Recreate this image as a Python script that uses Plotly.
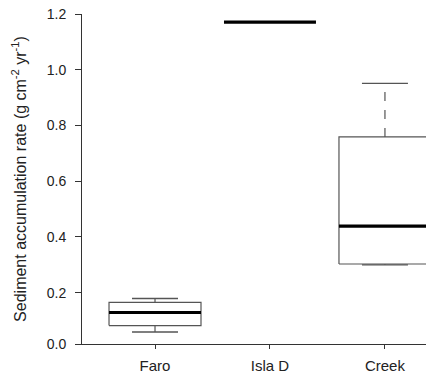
import plotly.graph_objects as go

categories = ["Faro", "Isla D", "Creek"]
q1 = [0.082, None, 0.303]
median = [0.129, 1.171, 0.439]
q3 = [0.165, None, 0.759]
whisker_low = [0.059, None, 0.300]
whisker_high = [0.179, None, 0.951]
whisker_dash = ["solid", None, "dash"]

y_tickvals = [0.016, 0.2, 0.4, 0.6, 0.8, 1.0, 1.2]
y_ticktext = ["0.0", "0.2", "0.4", "0.6", "0.8", "1.0", "1.2"]

BOX_HW = 0.4
CAP_HW = 0.2
GREY = "#555555"

fig = go.Figure()
for i, cat in enumerate(categories):
    if q1[i] is not None:
        # box outline
        fig.add_trace(go.Scatter(
            x=[i - BOX_HW, i + BOX_HW, i + BOX_HW, i - BOX_HW, i - BOX_HW],
            y=[q1[i], q1[i], q3[i], q3[i], q1[i]],
            mode="lines", line=dict(color=GREY, width=1.2), hoverinfo="skip"))
        # whiskers
        fig.add_trace(go.Scatter(
            x=[i, i], y=[q3[i], whisker_high[i]], mode="lines",
            line=dict(color=GREY, width=1.2, dash=whisker_dash[i]), hoverinfo="skip"))
        fig.add_trace(go.Scatter(
            x=[i, i], y=[q1[i], whisker_low[i]], mode="lines",
            line=dict(color=GREY, width=1.2), hoverinfo="skip"))
        # caps
        for v in (whisker_low[i], whisker_high[i]):
            fig.add_trace(go.Scatter(
                x=[i - CAP_HW, i + CAP_HW], y=[v, v], mode="lines",
                line=dict(color=GREY, width=1.4), hoverinfo="skip"))
    # median
    fig.add_trace(go.Scatter(
        x=[i - BOX_HW, i + BOX_HW], y=[median[i], median[i]], mode="lines",
        line=dict(color="#000000", width=3.2), hoverinfo="skip"))

fig.update_layout(
    width=426, height=374,
    margin=dict(l=82, r=0, t=14, b=30),
    plot_bgcolor="white", paper_bgcolor="white",
    showlegend=False,
    font=dict(family="Liberation Sans, Arial, sans-serif", color="#222222"),
    xaxis=dict(
        range=[-0.635, 2.357], tickvals=[0, 1, 2], ticktext=categories,
        showgrid=False, zeroline=False, showline=True, linecolor="#333333", linewidth=1,
        ticks="outside", ticklen=4, tickcolor="#333333", tickfont=dict(size=15),
        ticklabelstandoff=4,
    ),
    yaxis=dict(
        range=[0.016, 1.2], tickvals=y_tickvals, ticktext=y_ticktext,
        showgrid=False, zeroline=False, showline=True, linecolor="#333333", linewidth=1,
        ticks="outside", ticklen=6, tickcolor="#333333", tickfont=dict(size=14),
        ticklabelstandoff=6,
        title=dict(text="Sediment accumulation rate (g cm<sup>-2</sup> yr<sup>-1</sup>)",
                   font=dict(size=16), standoff=16),
    ),
)

fig.write_html("out.html")
